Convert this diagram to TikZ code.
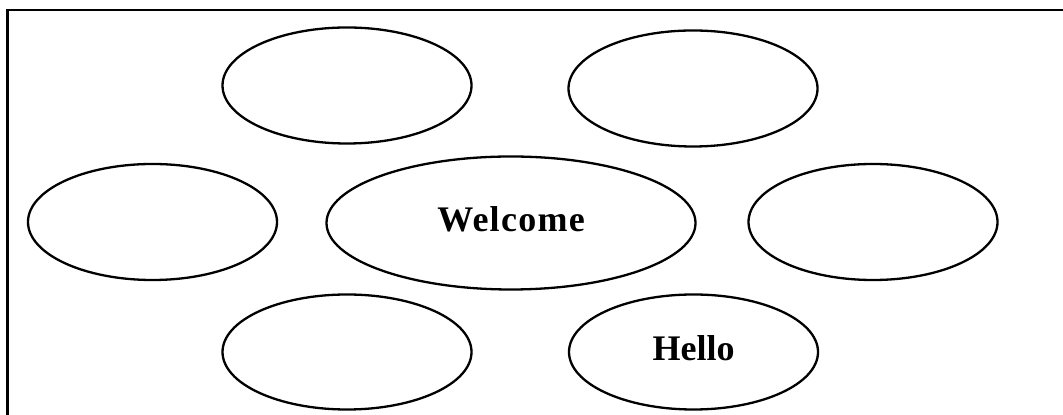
\documentclass[tikz,border=0pt]{standalone}
\usepackage{fontspec}
\setmainfont{Liberation Serif}
\usetikzlibrary{shapes.geometric}

\begin{document}
\begin{tikzpicture}[
      x=0.5pt,y=-0.5pt,
      bubble/.style={draw,ellipse,line width=1.15pt,inner sep=0pt,
                     minimum width=124.5pt,minimum height=58pt,text depth=4pt,
                     font=\fontsize{18}{20}\selectfont\bfseries},
      frame/.style={line width=1.2pt}]
    \useasboundingbox (0,0) rectangle (1063,415);
    \draw[frame] (7.5,415) -- (7.5,10) -- (1063,10);

    \node[bubble] (topleft) at (347,85.5) {};
    \node[bubble] (topright) at (693,88.5) {};

    \node[bubble] (midleft) at (152.5,222) {};
    \node[bubble,minimum width=184.5pt,minimum height=66.5pt] (welcome) at (511,223)
      {\addfontfeature{LetterSpace=3.5}Welcome};
    \node[bubble] (midright) at (873,222) {};

    \node[bubble,minimum height=57.5pt] (botleft) at (347,352) {};
    \node[bubble,minimum height=57.5pt] (hello) at (693.5,352) {Hello};
  \end{tikzpicture}
\end{document}
